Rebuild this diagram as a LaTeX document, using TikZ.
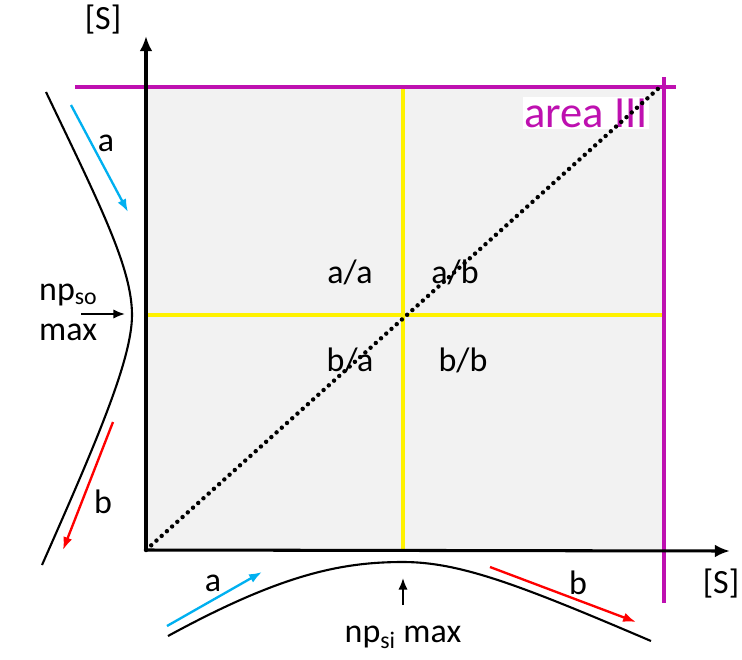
\documentclass[tikz,border=0pt]{standalone}
\usepackage{fontspec}
\setmainfont{Carlito}
\usepackage{xcolor}
\usetikzlibrary{arrows.meta,positioning,calc}
\definecolor{areamag}{RGB}{190,16,176}
\definecolor{riseblue}{RGB}{0,176,240}
\definecolor{plotgrey}{RGB}{242,242,242}

\begin{document}
\begin{tikzpicture}[x=0.03cm,y=-0.03cm,
  every node/.style={font=\fontsize{29}{34}\selectfont,inner sep=0pt},
  axis/.style={line width=2.6pt,-{Latex[length=13pt,width=11pt]}},
  curve/.style={line width=1.8pt},
  trend/.style={line width=2pt,-{Latex[length=11pt,width=8pt]}},
  marker/.style={line width=1.6pt,-{Latex[length=10pt,width=8pt]}},
  split/.style={yellow,line width=2.8pt},
  bound/.style={areamag,line width=2.8pt}
]
  \useasboundingbox (0,0) rectangle (742,659);
  \coordinate (o) at (146,550);
  \coordinate (ytip) at (146,36);
  \coordinate (xtip) at (730,551);
  \fill[plotgrey] (146,87) rectangle (664,550);
  % quadrant lines
  \draw[split] (403,87) -- (403,550);
  \draw[split] (146,315) -- (662,315);
  % area III bounds
  \draw[bound] (75,87) -- (676,87);
  \draw[bound] (664,77) -- (664,603);
  \node[text=areamag,font=\fontsize{38}{42}\selectfont,fill=white,inner sep=1pt] (area) at (586,113) {area III};
  \node (aa) at (350,272) {a/a};
  \node (ab) at (455,272) {a/b};
  \node (ba) at (350,360) {b/a};
  \node (bb) at (463,360) {b/b};
  \coordinate (diag) at (660,87);
  \draw[line width=3.8pt,line cap=round,dash pattern=on 0pt off 6pt] (o) -- (diag);
  % axes
  \draw[axis] (o) -- (ytip);
  \draw[axis] (o) -- (xtip);
  \node (sy) at (103,20) {[S]};
  \node (sx) at (721,584) {[S]};
  % left curve
  \draw[curve] (46,92) .. controls (100,205) and (132,268) .. (132,315)
    .. controls (132,360) and (95,445) .. (42,565);
  \coordinate (la0) at (71,105); \coordinate (la1) at (128,212);
  \draw[trend,riseblue] (la0) -- (la1);
  \node (la) at (106,143) {a};
  \coordinate (lb0) at (113,422); \coordinate (lb1) at (63,550);
  \draw[trend,red] (lb0) -- (lb1);
  \node (lb) at (103,502) {b};
  \node[align=left,anchor=west] (npso) at (39,312) {np\textsubscript{so}\\max};
  \coordinate (so0) at (81,314); \coordinate (so1) at (125,314);
  \draw[marker] (so0) -- (so1);
  % bottom curve
  \draw[curve] (168,636) .. controls (280,575) and (340,562) .. (403,562)
    .. controls (460,562) and (520,585) .. (651,641);
  \coordinate (ba0) at (167,626); \coordinate (ba1) at (262,572);
  \draw[trend,riseblue] (ba0) -- (ba1);
  \node (bal) at (213,583) {a};
  \coordinate (bb0) at (490,567); \coordinate (bb1) at (636,622);
  \draw[trend,red] (bb0) -- (bb1);
  \node (bbl) at (578,583) {b};
  \node (npsi) at (403,637) {np\textsubscript{si} max};
  \coordinate (si0) at (403,605); \coordinate (si1) at (403,578);
  \draw[marker] (si0) -- (si1);
\end{tikzpicture}
\end{document}
